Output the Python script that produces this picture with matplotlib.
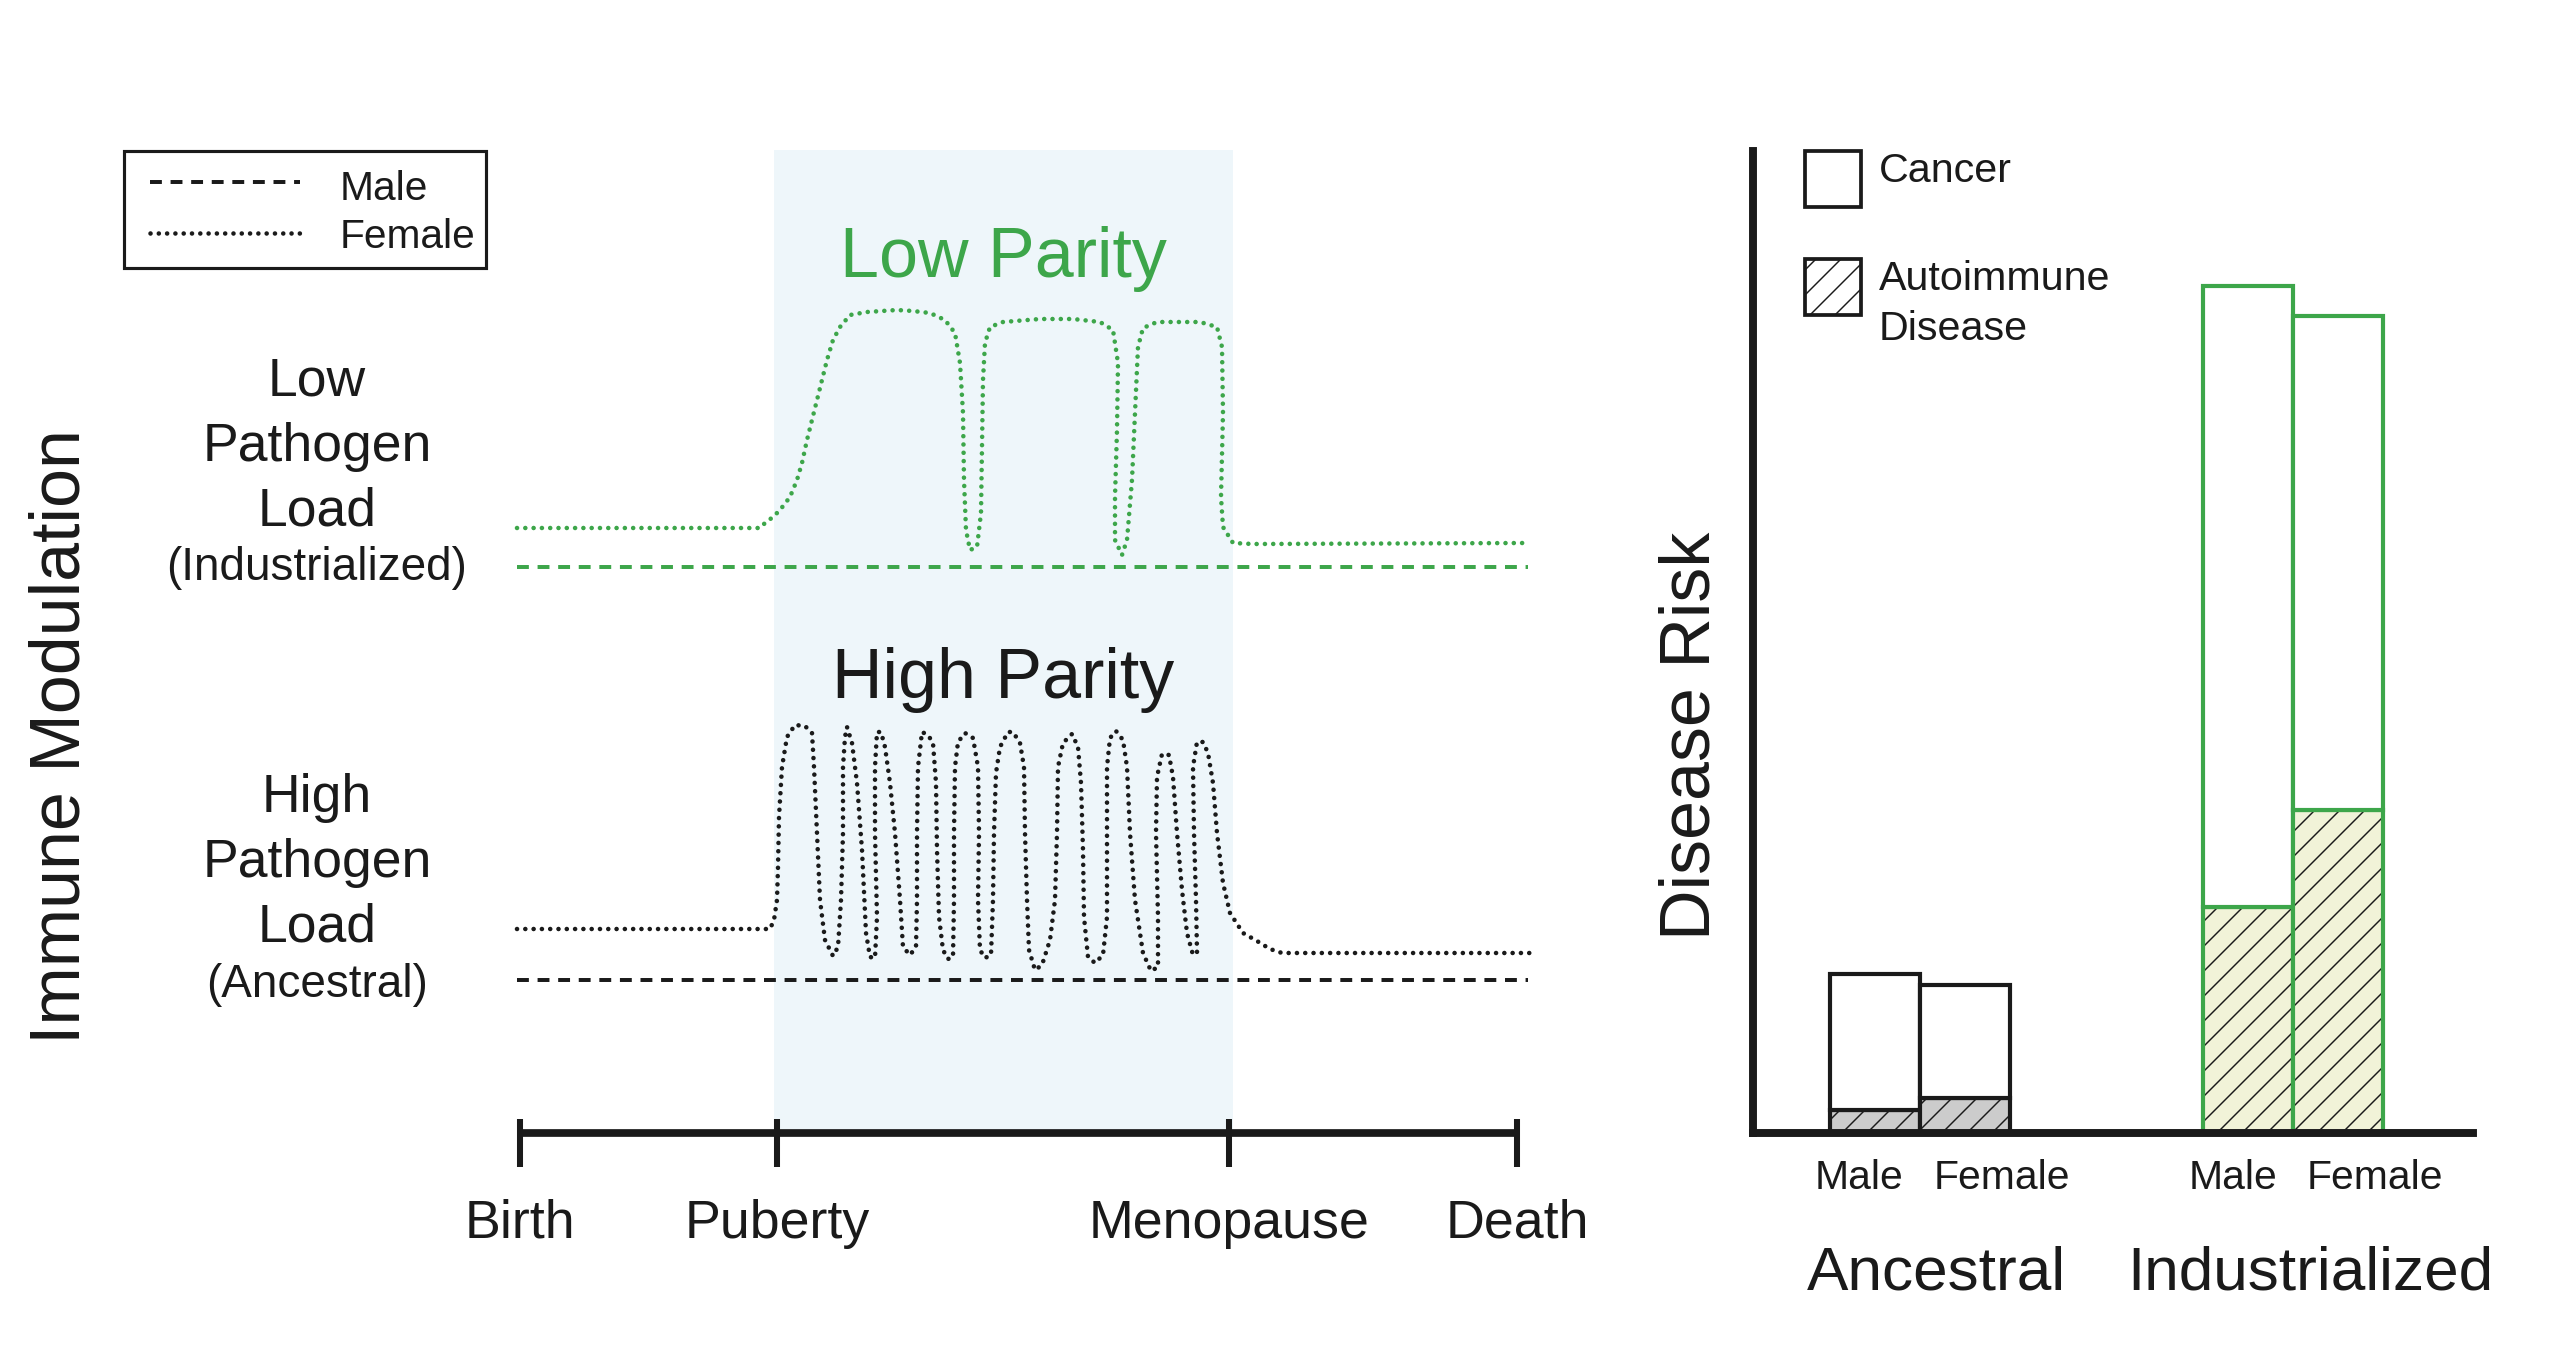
import matplotlib
matplotlib.use("Agg")
import matplotlib.pyplot as plt
from matplotlib.patches import Rectangle

plt.rcParams['font.family'] = ['Liberation Sans', 'DejaVu Sans']
plt.rcParams['hatch.linewidth'] = 0.7

GREEN = '#3DA64A'
INK = '#1a1a1a'
SHADE = '#EEF6FA'
GRAY = '#CCCCCC'
YELLOW = '#F1F3D8'

# ---------------- data: left panel (life course, arbitrary units) ----------------
stage_labels = ['Birth', 'Puberty', 'Menopause', 'Death']
stage_pos = [0, 257, 709, 997]

line_start, line_end = -3, 1008

# Low pathogen load (industrialized) female - low parity
low_f_x = [-3, 240, 245, 253, 260, 270, 277, 282, 287, 292, 297, 302, 307, 313, 320, 330,
           347, 377, 393, 410, 425, 435, 440, 443, 444, 446, 450, 457, 461, 462, 463, 465,
           470, 483, 520, 553, 580, 593, 598, 597, 595, 595, 602, 607, 612, 615, 618, 623,
           637, 680, 697, 702, 703, 701, 703, 713, 733, 1008]
low_f_y = [605, 605, 610, 616, 623, 636, 653, 670, 693, 713, 733, 753, 773, 793, 806, 818,
           821, 823, 822, 820, 813, 800, 770, 720, 653, 603, 583, 586, 620, 686, 753, 790,
           806, 811, 814, 814, 811, 803, 770, 703, 636, 593, 578, 593, 653, 720, 786, 805,
           811, 811, 806, 786, 720, 636, 606, 590, 589, 590]
low_m_level = 566

# High pathogen load (ancestral) female - high parity
high_f_x = [-3, 250, 254, 257, 258, 259, 262, 267, 275, 285, 292, 294, 297, 300, 305, 313,
            318, 321, 323, 323, 325, 327, 332, 337, 342, 346, 350, 355, 357, 355, 355, 357,
            361, 365, 370, 375, 380, 383, 390, 396, 397, 397, 398, 402, 408, 413, 416, 417,
            419, 423, 428, 433, 434, 434, 435, 438, 445, 453, 458, 459, 458, 460, 465, 471,
            473, 474, 476, 480, 488, 493, 500, 504, 505, 507, 509, 515, 522, 530, 535, 537,
            538, 543, 552, 558, 561, 563, 564, 568, 575, 583, 587, 587, 587, 590, 596, 603,
            607, 610, 615, 623, 631, 638, 638, 636, 637, 642, 649, 653, 657, 662, 667, 673,
            677, 676, 674, 673, 677, 683, 688, 693, 697, 703, 710, 723, 737, 750, 762, 1010]
high_f_y = [204, 204, 213, 233, 266, 316, 366, 396, 408, 407, 400, 366, 300, 233, 193, 177,
            186, 233, 300, 366, 396, 406, 390, 350, 283, 200, 176, 175, 216, 300, 366, 401,
            401, 386, 350, 300, 233, 186, 178, 186, 233, 300, 366, 401, 398, 390, 350, 283,
            216, 183, 174, 176, 233, 300, 366, 391, 400, 395, 366, 300, 233, 183, 175, 178,
            233, 300, 360, 386, 401, 401, 390, 366, 300, 233, 183, 163, 168, 193, 233, 300,
            366, 390, 399, 386, 350, 283, 216, 176, 170, 178, 216, 300, 366, 395, 402, 393,
            366, 300, 233, 180, 162, 166, 216, 300, 356, 379, 378, 356, 300, 243, 200, 178,
            181, 233, 300, 366, 391, 391, 380, 350, 300, 250, 220, 200, 192, 184, 180, 180]
high_m_level = 153

# ---------------- data: right panel (disease risk, % of axis) ----------------
groups = ['Ancestral', 'Industrialized']
sexes = ['Male', 'Female']
autoimmune = [[2.3, 3.6], [23.0, 32.9]]
cancer = [[13.9, 11.5], [63.3, 50.3]]
group_edge = [INK, GREEN]
group_fill = [GRAY, YELLOW]

# ---------------- figure ----------------
W, H = 2550, 1350
fig = plt.figure(figsize=(17, 9), dpi=150)

axL = fig.add_axes([0, 0, 1683 / W, 1])
axL.set_xlim(-520, 1163)
axL.set_ylim(-217, 1133)
axL.axis('off')

DOT = dict(lw=2.2, ls=(0, (0.01, 1.8)), dash_capstyle='round')
DASH = dict(lw=1.9, ls=(0, (3, 2.2)), dash_capstyle='butt')

# reproductive window shading
axL.fill_between([stage_pos[1] - 3, stage_pos[2] + 4], 0, 983, color=SHADE, lw=0, zorder=0)

# curves
axL.plot(low_f_x, low_f_y, color=GREEN, **DOT)
axL.plot([line_start, line_end], [low_m_level] * 2, color=GREEN, **DASH)
axL.plot(high_f_x, high_f_y, color=INK, **DOT)
axL.plot([line_start, line_end], [high_m_level] * 2, color=INK, **DASH)

# timeline
axL.plot([stage_pos[0], stage_pos[-1]], [0, 0], color=INK, lw=3.7, solid_capstyle='butt')
axL.vlines(stage_pos, -34, 14, color=INK, lw=2.9)
for lab, p in zip(stage_labels, stage_pos):
    axL.text(p, -105, lab, ha='center', va='baseline', fontsize=25.8, color=INK)

# titles in left panel
axL.text(483, 856, 'Low Parity', ha='center', va='baseline', fontsize=33.6, color=GREEN)
axL.text(483, 435, 'High Parity', ha='center', va='baseline', fontsize=33.6, color=INK)

for lines, base in ((['Low', 'Pathogen', 'Load'], 737), (['High', 'Pathogen', 'Load'], 321)):
    for i, t in enumerate(lines):
        axL.text(-203, base - 65 * i, t, ha='center', va='baseline', fontsize=25.7, color=INK)
axL.text(-203, 553, '(Industrialized)', ha='center', va='baseline', fontsize=22, color=INK)
axL.text(-203, 136, '(Ancestral)', ha='center', va='baseline', fontsize=22, color=INK)

axL.text(-458, 396, 'Immune Modulation', rotation=90, ha='center', va='center',
         fontsize=33.6, color=INK)

# left legend (line styles)
axL.add_patch(Rectangle((-396, 865), 362, 117, fill=False, edgecolor=INK, lw=1.5))
axL.plot([-370, -220], [951, 951], color=INK, **DASH)
axL.plot([-370, -220], [900, 900], color=INK, **DOT)
axL.text(-180, 933.5, 'Male', ha='left', va='baseline', fontsize=19.5, color=INK)
axL.text(-180, 885.5, 'Female', ha='left', va='baseline', fontsize=19.5, color=INK)

# ---------------- right panel ----------------
axR = fig.add_axes([1753 / W, (H - 1133) / H, 720 / W, 982 / H])
axR.set_xlim(0, 7.2)
axR.set_ylim(0, 100)
axR.set_facecolor('none')
for s in ('top', 'right'):
    axR.spines[s].set_visible(False)
for s in ('left', 'bottom'):
    axR.spines[s].set_linewidth(3.8)
    axR.spines[s].set_color(INK)
    axR.spines[s].set_zorder(5)
axR.set_xticks([])
axR.set_yticks([])

centers = [1.665, 5.40]
width = 0.9
for gi, g in enumerate(groups):
    for si, sx in enumerate(sexes):
        x = centers[gi] + (si - 0.5) * width
        a = autoimmune[gi][si]
        c = cancer[gi][si]
        axR.bar(x, a, width, color=group_fill[gi], edgecolor=INK, hatch='//', lw=0)
        axR.bar(x, a, width, fill=False, edgecolor=group_edge[gi], lw=2)
        axR.bar(x, c, width, bottom=a, color='white', edgecolor=group_edge[gi], lw=2)
        axR.text(centers[gi] + (si - 0.5) * 1.42 + 0.11, -5.7, sx, ha='center',
                 va='baseline', fontsize=19.6, color=INK, clip_on=False)
    axR.text(centers[gi] + 0.17, -15.9, g, ha='center', va='baseline', fontsize=29.8,
             color=INK, clip_on=False)

axR.text(-0.62, 40.4, 'Disease Risk', rotation=90, ha='center', va='center',
         fontsize=33.6, color=INK, clip_on=False)

# right legend (disease types)
axR.add_patch(Rectangle((0.52, 94.3), 0.56, 5.7, facecolor='white', edgecolor=INK,
                        lw=1.8, clip_on=False))
axR.add_patch(Rectangle((0.52, 83.3), 0.56, 5.7, facecolor='white', edgecolor=INK,
                        hatch='//', lw=1.8, clip_on=False))
axR.text(1.26, 96.8, 'Cancer', ha='left', va='baseline', fontsize=19.8, color=INK)
axR.text(1.26, 85.8, 'Autoimmune', ha='left', va='baseline', fontsize=19.8, color=INK)
axR.text(1.26, 80.8, 'Disease', ha='left', va='baseline', fontsize=19.8, color=INK)

fig.savefig('out.png', dpi=150, facecolor='white')
